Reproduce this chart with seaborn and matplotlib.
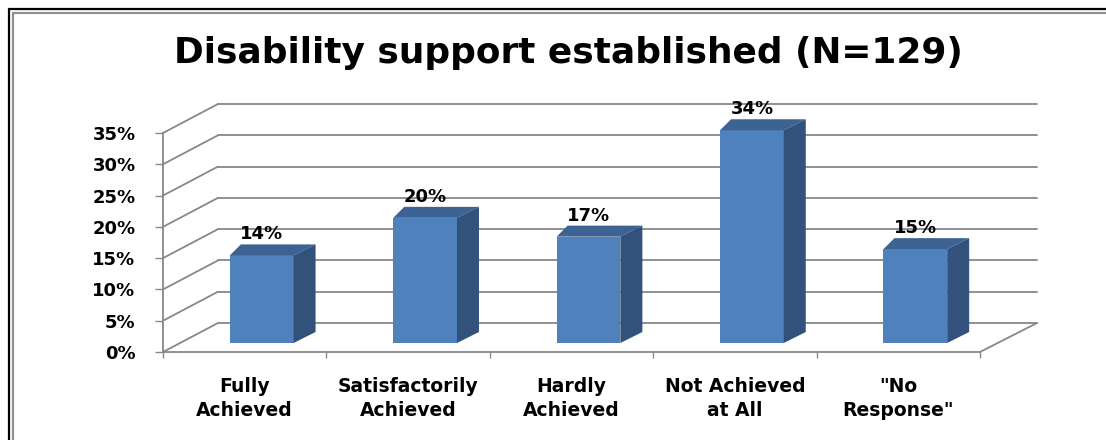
import matplotlib
matplotlib.use("Agg")
import matplotlib.pyplot as plt
from matplotlib.patches import Polygon
from matplotlib.lines import Line2D
import seaborn as sns
import pandas as pd

# Survey result data
categories = ["Fully\nAchieved", "Satisfactorily\nAchieved", "Hardly\nAchieved",
              "Not Achieved\nat All", "\"No\nResponse\""]
shares = [14, 20, 17, 34, 15]
value_labels = ["14%", "20%", "17%", "34%", "15%"]
ytick_values = [0, 5, 10, 15, 20, 25, 30, 35]
ytick_labels = ["0%", "5%", "10%", "15%", "20%", "25%", "30%", "35%"]
title = "Disability support established (N=129)"

df = pd.DataFrame({"category": categories, "share": shares})

sns.set_theme(style="white")
plt.rcParams["font.family"] = ["DejaVu Sans"]
plt.rcParams["text.color"] = "black"
plt.rcParams["xtick.color"] = "black"
plt.rcParams["ytick.color"] = "black"
plt.rcParams["xtick.labelcolor"] = "black"
plt.rcParams["ytick.labelcolor"] = "black"

W, H, DPI = 1106, 440, 100
fig = plt.figure(figsize=(W / DPI, H / DPI), dpi=DPI)
fig.patch.set_facecolor("white")

# front plane of the 3-D box, in pixels
x0_px, x1_px = 163, 980
y0_px, y1_px = 352, 133
ax = fig.add_axes([x0_px / W, 1 - y0_px / H, (x1_px - x0_px) / W, (y0_px - y1_px) / H])
ax.set_facecolor("none")

front = "#4f81bd"
top_c = "#3c6393"
side_c = "#32527b"
grid_c = "#888888"

BAR_W = 0.39
sns.barplot(data=df, x="category", y="share", color=front, width=BAR_W,
            saturation=1, ax=ax, zorder=3)
ax.set_xlim(-0.5, len(categories) - 0.5)
ax.set_ylim(0, 35)

# pixel -> data scale
ppx = (x1_px - x0_px) / len(categories)
ppy = (y0_px - y1_px) / 35.0


def dx(p):
    return p / ppx


def dy(p):
    return p / ppy


# walls: back gridlines and side-wall diagonals
WALL_DX, WALL_DY = 55, 29
for v in ytick_values:
    ax.plot([-0.5 + dx(WALL_DX), len(categories) - 0.5 + dx(WALL_DX + 2)],
            [v + dy(WALL_DY), v + dy(WALL_DY)], color=grid_c, lw=1.3,
            clip_on=False, zorder=1)
    ax.plot([-0.5, -0.5 + dx(WALL_DX)], [v, v + dy(WALL_DY)], color=grid_c,
            lw=1.3, clip_on=False, zorder=1)
ax.plot([len(categories) - 0.5, len(categories) - 0.5 + dx(WALL_DX + 2)],
        [0, dy(WALL_DY)], color=grid_c, lw=1.3, clip_on=False, zorder=1)

# shift bars into the box and give them depth
SHIFT_X, SHIFT_Y = 17, 9
for patch, val, lab in zip(ax.patches, shares, value_labels):
    xl = patch.get_x() + dx(SHIFT_X)
    xr = xl + patch.get_width()
    yb = dy(SHIFT_Y)
    yt = val + dy(SHIFT_Y)
    patch.set_x(xl)
    patch.set_y(yb)
    patch.set_height(val)
    patch.set_edgecolor("none")
    patch.set_clip_on(False)
    top = Polygon([(xl, yt), (xr, yt), (xr + dx(22), yt + dy(11)),
                   (xl + dx(11), yt + dy(11))], closed=True,
                  facecolor=top_c, edgecolor="none", zorder=3, clip_on=False)
    side = Polygon([(xr, yb), (xr, yt), (xr + dx(22), yt + dy(11)),
                    (xr + dx(22), yb + dy(11))], closed=True,
                   facecolor=side_c, edgecolor="none", zorder=3, clip_on=False)
    ax.add_patch(top)
    ax.add_patch(side)
    ax.text((xl + xr) / 2, yt + dy(11) + dy(1), lab, ha="center", va="bottom",
            fontsize=13, fontweight="bold", color="black", zorder=4,
            clip_on=False)

# axes styling
for s in ["top", "right"]:
    ax.spines[s].set_visible(False)
for s in ["left", "bottom"]:
    ax.spines[s].set_color(grid_c)
    ax.spines[s].set_linewidth(1.3)

ax.set_yticks(ytick_values)
ax.set_yticklabels(ytick_labels, fontsize=13, fontweight="bold", color="black")
ax.tick_params(axis="y", left=True, length=5.8, width=1.0, color=grid_c,
               direction="out", pad=14)

ax.set_xticks(range(len(categories)))
ax.set_xticklabels(categories, fontsize=13.5, fontweight="bold", color="black",
                   linespacing=1.3)
ax.tick_params(axis="x", bottom=True, length=0, pad=18)
ax.set_xticks([i - 0.5 for i in range(len(categories) + 1)], minor=True)
ax.tick_params(axis="x", which="minor", bottom=True, length=4.5, width=1.0,
               color=grid_c, direction="out")
ax.set_xlabel("")
ax.set_ylabel("")

# chart title
fig.text(568 / W, 1 - 63 / H, title, ha="center", va="baseline",
         fontsize=25.8, fontweight="bold", color="black")

# double border along the top and left edges
fig.add_artist(Line2D([9 / W, 9 / W], [0, 1 - 9 / H], color="black", lw=1.6,
                      transform=fig.transFigure))
fig.add_artist(Line2D([9 / W, 1], [1 - 9 / H, 1 - 9 / H], color="black", lw=1.6,
                      transform=fig.transFigure))
fig.add_artist(Line2D([13 / W, 13 / W], [0, 1 - 13 / H], color="#909090", lw=1.6,
                      transform=fig.transFigure))
fig.add_artist(Line2D([13 / W, 1], [1 - 13 / H, 1 - 13 / H], color="#909090",
                      lw=1.6, transform=fig.transFigure))

fig.savefig("out.png", dpi=DPI)
